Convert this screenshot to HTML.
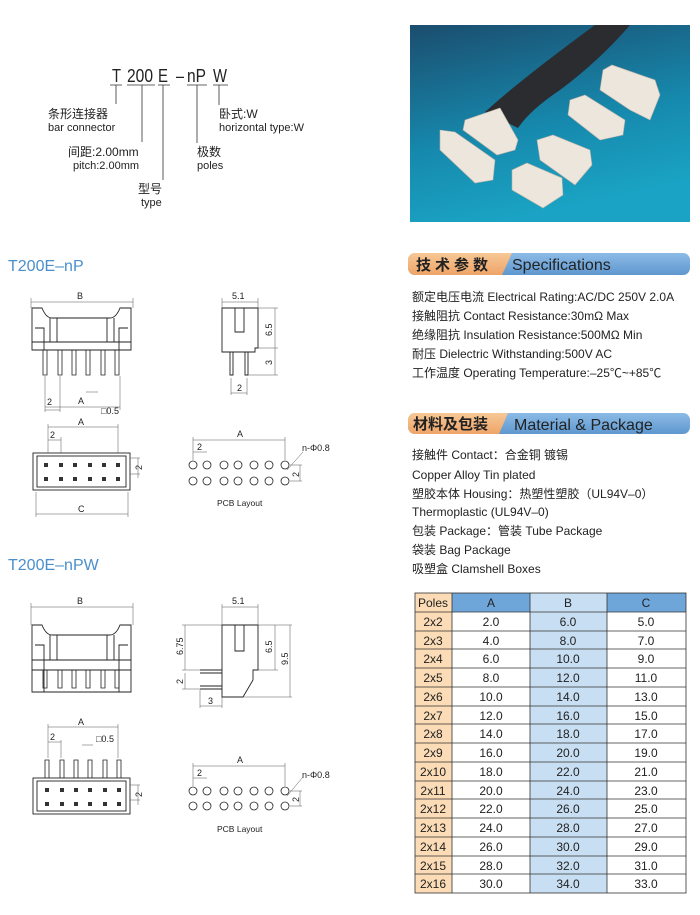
<!DOCTYPE html>
<html><head><meta charset="utf-8"><style>
html,body{margin:0;padding:0;background:#fff;}
svg{display:block;}
text{font-family:"Liberation Sans","Noto Sans CJK SC",sans-serif;fill:#222;}
</style></head><body>
<svg width="700" height="915" viewBox="0 0 700 915" xmlns="http://www.w3.org/2000/svg">
<defs>
<linearGradient id="bg" x1="0" y1="0" x2="0.3" y2="1">
<stop offset="0" stop-color="#1b4d6e"/><stop offset="0.6" stop-color="#1689ad"/><stop offset="1" stop-color="#1aa3c4"/>
</linearGradient>
<linearGradient id="blu" x1="0" y1="0" x2="0" y2="1"><stop offset="0" stop-color="#8cbbe6"/><stop offset="1" stop-color="#5f97cf"/></linearGradient>
<linearGradient id="org" x1="0" y1="0" x2="0" y2="1"><stop offset="0" stop-color="#f7c896"/><stop offset="1" stop-color="#eea468"/></linearGradient>
</defs>

<!-- Part number -->
<g font-size="18">
<text x="112" y="82" textLength="9" lengthAdjust="spacingAndGlyphs">T</text>
<text x="127" y="82" textLength="26" lengthAdjust="spacingAndGlyphs">200</text>
<text x="158" y="82" textLength="10" lengthAdjust="spacingAndGlyphs">E</text>
<text x="176" y="82" textLength="8" lengthAdjust="spacingAndGlyphs">–</text>
<text x="187" y="82" textLength="19" lengthAdjust="spacingAndGlyphs">nP</text>
<text x="213" y="82" textLength="14" lengthAdjust="spacingAndGlyphs">W</text>
</g>
<g stroke="#333" stroke-width="0.8" fill="none">
<path d="M110 85H122M127 85H155M158 85H170M187 85H207M213 85H228"/>
<path d="M116 85V104M142 85V142M163 85V180M197 85V143M219 85V105"/>
</g>
<g font-size="12">
<text x="48" y="118">条形连接器</text><text x="48" y="131" font-size="11">bar connector</text>
<text x="68" y="156">间距:2.00mm</text><text x="73" y="169" font-size="11">pitch:2.00mm</text>
<text x="138" y="193">型号</text><text x="141" y="206" font-size="11">type</text>
<text x="197" y="156">极数</text><text x="197" y="169" font-size="11">poles</text>
<text x="219" y="118">卧式:W</text><text x="219" y="131" font-size="11">horizontal type:W</text>
</g>

<!-- Photo -->
<rect x="410" y="25" width="280" height="197" fill="url(#bg)"/>
<path d="M595 25 L630 25 Q600 60 560 90 Q530 110 518 128 L485 112 Q520 80 595 25Z" fill="#2a2c30"/>
<g fill="#ece6dc" stroke="#b8b0a4" stroke-width="0.6">
<polygon points="465,120 500,108 518,140 515,150 497,155 463,130"/>
<polygon points="440,130 455,132 495,160 493,180 475,183 440,150"/>
<polygon points="570,100 585,95 625,120 623,135 600,140 568,115"/>
<polygon points="603,70 612,65 655,80 660,95 650,120 630,110 600,90"/>
<polygon points="537,140 553,135 590,150 592,165 575,185 540,160"/>
<polygon points="512,170 527,163 562,178 563,195 543,208 512,190"/>
</g>

<!-- Section titles -->
<text x="8" y="271" font-size="16" style="fill:#4a8fcb">T200E–nP</text>
<text x="8" y="570" font-size="16" style="fill:#4a8fcb">T200E–nPW</text>

<!-- Drawings -->
<g stroke="#222" stroke-width="0.9" fill="none">
<path d="M32 350V308H42Q46 318 52 318H110Q116 318 120 308H131V350Z"/>
<path d="M50 318V342H57V318M107 318V342H114V318"/>
<path d="M35 328H44V350M128 328H119V350"/>
<path d="M32 342H131"/>
<g stroke-width="0.8"><path d="M43 350V375H47V350M58 350V375H62V350M72 350V375H76V350M86 350V375H90V350M101 350V375H105V350M115 350V375H119V350"/></g>
<path d="M222 308H258V348H255V352H222Z"/><path d="M235 308V332H244V308"/>
<path d="M230 352V375H233V352M245 352V375H248V352"/>
<rect x="33" y="453" width="97" height="37"/><rect x="37" y="456" width="89" height="31"/>
<g stroke-width="0.8">
<circle cx="193" cy="465" r="4"/><circle cx="207" cy="465" r="4"/><circle cx="224" cy="465" r="4"/><circle cx="238" cy="465" r="4"/><circle cx="254" cy="465" r="4"/><circle cx="269" cy="465" r="4"/><circle cx="285" cy="465" r="4"/>
<circle cx="193" cy="481" r="4"/><circle cx="207" cy="481" r="4"/><circle cx="224" cy="481" r="4"/><circle cx="238" cy="481" r="4"/><circle cx="254" cy="481" r="4"/><circle cx="269" cy="481" r="4"/><circle cx="285" cy="481" r="4"/>
</g>
<path d="M32 692V625H42Q46 635 52 635H110Q116 635 120 625H131V692H32Z"/>
<path d="M50 635V660H57V635M107 635V660H114V635"/>
<path d="M35 645H44V692M128 645H119V692"/>
<path d="M32 660H131M32 670H131"/>
<g stroke-width="0.8"><path d="M43 670V688H47V670M58 670V688H62V670M72 670V688H76V670M86 670V688H90V670M101 670V688H105V670M115 670V688H119V670"/></g>
<path d="M222 625H258V670H253V680L243 697H222Z"/><path d="M235 625V651H244V625"/>
<path d="M200 670H222M200 673H222M200 686H222M200 689H222"/>
<rect x="33" y="778" width="97" height="36"/><rect x="37" y="781" width="89" height="30"/>
<g stroke-width="0.8"><path d="M45 778V760H49V778M60 778V760H64V778M74 778V760H78V778M88 778V760H92V778M103 778V760H107V778M117 778V760H121V778"/></g>
<g stroke-width="0.8">
<circle cx="193" cy="791" r="4"/><circle cx="207" cy="791" r="4"/><circle cx="224" cy="791" r="4"/><circle cx="238" cy="791" r="4"/><circle cx="254" cy="791" r="4"/><circle cx="269" cy="791" r="4"/><circle cx="285" cy="791" r="4"/>
<circle cx="193" cy="806" r="4"/><circle cx="207" cy="806" r="4"/><circle cx="224" cy="806" r="4"/><circle cx="238" cy="806" r="4"/><circle cx="254" cy="806" r="4"/><circle cx="269" cy="806" r="4"/><circle cx="285" cy="806" r="4"/>
</g>
</g>
<g fill="#333">
<rect x="44" y="463" width="4" height="4"/><rect x="59" y="463" width="4" height="4"/><rect x="73" y="463" width="4" height="4"/><rect x="88" y="463" width="4" height="4"/><rect x="102" y="463" width="4" height="4"/><rect x="116" y="463" width="4" height="4"/>
<rect x="44" y="477" width="4" height="4"/><rect x="59" y="477" width="4" height="4"/><rect x="73" y="477" width="4" height="4"/><rect x="88" y="477" width="4" height="4"/><rect x="102" y="477" width="4" height="4"/><rect x="116" y="477" width="4" height="4"/>
<rect x="45" y="788" width="4" height="4"/><rect x="60" y="788" width="4" height="4"/><rect x="74" y="788" width="4" height="4"/><rect x="88" y="788" width="4" height="4"/><rect x="103" y="788" width="4" height="4"/><rect x="117" y="788" width="4" height="4"/>
<rect x="45" y="802" width="4" height="4"/><rect x="60" y="802" width="4" height="4"/><rect x="74" y="802" width="4" height="4"/><rect x="88" y="802" width="4" height="4"/><rect x="103" y="802" width="4" height="4"/><rect x="117" y="802" width="4" height="4"/>
</g>
<g stroke="#555" stroke-width="0.5" fill="none">
<path d="M31 302H133M31 298V308M133 298V308"/>
<path d="M45 410H60M45 376V412M60 376V412M86 392H98"/>
<path d="M45 407H120M120 376V410"/>
<path d="M222 302H258M222 298V308M258 298V308"/>
<path d="M275 308V375M258 308H278M258 348H278M248 375H278"/>
<path d="M231 378V395M247 378V395M231 393H247"/>
<path d="M48 427H118M48 424V453M118 424V453M48 440H61M61 437V453"/>
<path d="M138 458V478M130 458H140M130 474H140"/>
<path d="M36 492V517M128 492V517M36 514H128"/>
<path d="M193 440H285M193 437V460M285 437V460M193 452H207"/>
<path d="M287 470L303 452M290 465H302M290 481H302M300 465V481"/>
<path d="M31 607H133M31 603V625M133 603V625"/>
<path d="M222 607H258M222 604V625M258 604V625"/>
<path d="M182 625H222M185 625V670M182 670H200M185 673V689M182 689H200"/>
<path d="M258 625H292M275 625V670M258 670H278M290 625V697M243 697H292"/>
<path d="M200 690V708M222 697V708M200 706H222"/>
<path d="M48 727H118M48 724V758M118 724V758M48 742H61M61 740V758M82 745H93"/>
<path d="M138 785V805M130 785H140M130 800H140"/>
<path d="M193 766H285M193 763V786M285 763V786M193 778H207"/>
<path d="M287 796L303 777M290 791H302M290 806H302M300 791V806"/>
</g>
<g font-size="9">
<text x="77" y="299">B</text><text x="47" y="405">2</text><text x="101" y="414">□0.5</text><text x="78" y="404">A</text>
<text x="232" y="299">5.1</text><text x="237" y="391">2</text>
<text x="78" y="425">A</text><text x="50" y="438">2</text><text x="78" y="512">C</text>
<text x="237" y="437">A</text><text x="197" y="450">2</text><text x="302" y="451">n-Φ0.8</text>
<text x="217" y="506" font-size="8.5">PCB Layout</text>
<text x="77" y="604">B</text><text x="232" y="604">5.1</text><text x="208" y="704">3</text>
<text x="78" y="725">A</text><text x="50" y="740">2</text><text x="96" y="742">□0.5</text>
<text x="237" y="763">A</text><text x="197" y="776">2</text><text x="302" y="778">n-Φ0.8</text>
<text x="217" y="832" font-size="8.5">PCB Layout</text>
</g>
<g font-size="9">
<text transform="translate(272,336) rotate(-90)">6.5</text>
<text transform="translate(272,365) rotate(-90)">3</text>
<text transform="translate(142,470) rotate(-90)">2</text>
<text transform="translate(299,477) rotate(-90)">2</text>
<text transform="translate(183,655) rotate(-90)">6.75</text>
<text transform="translate(183,684) rotate(-90)">2</text>
<text transform="translate(272,653) rotate(-90)">6.5</text>
<text transform="translate(288,665) rotate(-90)">9.5</text>
<text transform="translate(142,797) rotate(-90)">2</text>
<text transform="translate(299,802) rotate(-90)">2</text>
</g>

<rect x="408" y="253" width="282" height="22" rx="7" fill="url(#blu)"/>
<path d="M415 253H512L502 275H415A7 7 0 0 1 408 268V260A7 7 0 0 1 415 253Z" fill="url(#org)"/>
<text x="416" y="270" font-size="15" font-weight="bold" letter-spacing="4">技术参数</text>
<text x="512" y="270" font-size="16">Specifications</text>
<g font-size="12">
<text x="412" y="301">额定电压电流 Electrical Rating:AC/DC 250V 2.0A</text>
<text x="412" y="320">接触阻抗 Contact Resistance:30mΩ Max</text>
<text x="412" y="339">绝缘阻抗 Insulation Resistance:500MΩ Min</text>
<text x="412" y="358">耐压 Dielectric Withstanding:500V AC</text>
<text x="412" y="377">工作温度 Operating Temperature:–25℃~+85℃</text>
</g>
<rect x="408" y="413" width="282" height="21" rx="7" fill="url(#blu)"/>
<path d="M415 413H508L499 434H415A7 7 0 0 1 408 427V420A7 7 0 0 1 415 413Z" fill="url(#org)"/>
<text x="413" y="429" font-size="15" font-weight="bold">材料及包装</text>
<text x="514" y="430" font-size="16">Material &amp; Package</text>
<g font-size="12">
<text x="412" y="459">接触件 Contact：合金铜 镀锡</text>
<text x="412" y="479">Copper Alloy Tin plated</text>
<text x="412" y="498">塑胶本体 Housing：热塑性塑胶（UL94V–0）</text>
<text x="412" y="516">Thermoplastic (UL94V–0)</text>
<text x="412" y="535">包装 Package：管装 Tube Package</text>
<text x="412" y="554">袋装 Bag Package</text>
<text x="412" y="573">吸塑盒 Clamshell Boxes</text>
</g>

<rect x="415" y="593" width="37" height="300" fill="#fbdcb6"/>
<rect x="452" y="593" width="78" height="19" fill="#6fa6da"/>
<rect x="530" y="593" width="77" height="300" fill="#c8dff3"/>
<rect x="607" y="593" width="79" height="19" fill="#6fa6da"/>
<g stroke="#333" stroke-width="0.8" fill="none">
<rect x="415" y="593" width="271" height="300"/>
<path d="M452 593V893M530 593V893M607 593V893"/>
<path d="M415 612H686M415 631H686M415 649H686M415 668H686M415 687H686M415 706H686M415 724H686M415 743H686M415 762H686M415 781H686M415 799H686M415 818H686M415 837H686M415 856H686M415 874H686"/>
</g>
<g font-size="12" text-anchor="middle">
<text x="433" y="607">Poles</text><text x="491" y="607">A</text><text x="568" y="607">B</text><text x="646" y="607">C</text>
<text x="433" y="626">2x2</text><text x="491" y="626">2.0</text><text x="568" y="626">6.0</text><text x="646" y="626">5.0</text>
<text x="433" y="645">2x3</text><text x="491" y="645">4.0</text><text x="568" y="645">8.0</text><text x="646" y="645">7.0</text>
<text x="433" y="663">2x4</text><text x="491" y="663">6.0</text><text x="568" y="663">10.0</text><text x="646" y="663">9.0</text>
<text x="433" y="682">2x5</text><text x="491" y="682">8.0</text><text x="568" y="682">12.0</text><text x="646" y="682">11.0</text>
<text x="433" y="701">2x6</text><text x="491" y="701">10.0</text><text x="568" y="701">14.0</text><text x="646" y="701">13.0</text>
<text x="433" y="720">2x7</text><text x="491" y="720">12.0</text><text x="568" y="720">16.0</text><text x="646" y="720">15.0</text>
<text x="433" y="738">2x8</text><text x="491" y="738">14.0</text><text x="568" y="738">18.0</text><text x="646" y="738">17.0</text>
<text x="433" y="757">2x9</text><text x="491" y="757">16.0</text><text x="568" y="757">20.0</text><text x="646" y="757">19.0</text>
<text x="433" y="776">2x10</text><text x="491" y="776">18.0</text><text x="568" y="776">22.0</text><text x="646" y="776">21.0</text>
<text x="433" y="795">2x11</text><text x="491" y="795">20.0</text><text x="568" y="795">24.0</text><text x="646" y="795">23.0</text>
<text x="433" y="813">2x12</text><text x="491" y="813">22.0</text><text x="568" y="813">26.0</text><text x="646" y="813">25.0</text>
<text x="433" y="832">2x13</text><text x="491" y="832">24.0</text><text x="568" y="832">28.0</text><text x="646" y="832">27.0</text>
<text x="433" y="851">2x14</text><text x="491" y="851">26.0</text><text x="568" y="851">30.0</text><text x="646" y="851">29.0</text>
<text x="433" y="870">2x15</text><text x="491" y="870">28.0</text><text x="568" y="870">32.0</text><text x="646" y="870">31.0</text>
<text x="433" y="888">2x16</text><text x="491" y="888">30.0</text><text x="568" y="888">34.0</text><text x="646" y="888">33.0</text>
</g>
</svg>
</body></html>
